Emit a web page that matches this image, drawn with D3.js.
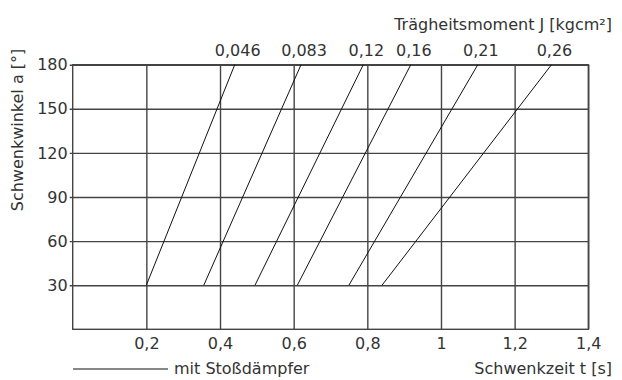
<!DOCTYPE html>
<html>
<head>
<meta charset="utf-8">
<script src="https://cdn.jsdelivr.net/npm/d3@7"></script>
<style>
  html, body { margin: 0; padding: 0; background: #fff; }
  svg { display: block; }
  text { font-family: "DejaVu Sans", sans-serif; font-size: 16px; fill: #333; }
</style>
</head>
<body>
<svg id="chart" width="622" height="380"></svg>
<script>
// Swing angle (°) and swing time (s) tick values
const angleTicks = [30, 60, 90, 120, 150, 180];
const timeTicks = [0.2, 0.4, 0.6, 0.8, 1, 1.2, 1.4];

// Moment of inertia for each characteristic line
const inertiaLabels = ["0,046", "0,083", "0,12", "0,16", "0,21", "0,26"];

// Each line runs from 30° to 180°
const lineAngles = [30, 180];
const timeAt30 = [0.2, 0.356, 0.495, 0.61, 0.75, 0.84];
const timeAt180 = [0.44, 0.62, 0.789, 0.918, 1.10, 1.30];

const svg = d3.select("#chart");
const plotLeft = 72.7, plotRight = 588.3, plotTop = 64.7, plotBottom = 329.3;

const x = d3.scaleLinear().domain([0, 1.4]).range([plotLeft, plotRight]);
const y = d3.scaleLinear().domain([0, 180]).range([plotBottom, plotTop]);

const gridColor = "#444";
const fmt = v => d3.format("~g")(v).replace(".", ",");

// Horizontal grid lines with left-hand labels
const yAxis = d3.axisLeft(y)
  .tickValues(angleTicks)
  .tickSizeInner(-(plotRight - plotLeft))
  .tickSizeOuter(0)
  .tickPadding(6)
  .tickFormat(d3.format("d"));
const gy = svg.append("g").attr("transform", `translate(${plotLeft},0)`).call(yAxis);
gy.select(".domain").remove();
gy.selectAll(".tick line").attr("stroke", gridColor).attr("stroke-width", 1.4).attr("x1", -3);
gy.selectAll(".tick text").attr("fill", "#333").style("font-size", "16px")
  .style("font-family", "DejaVu Sans, sans-serif").attr("x", -5);

// Vertical grid lines with bottom labels
const xAxis = d3.axisBottom(x)
  .tickValues(timeTicks)
  .tickSizeInner(-(plotBottom - plotTop))
  .tickSizeOuter(0)
  .tickPadding(8)
  .tickFormat(fmt);
const gx = svg.append("g").attr("transform", `translate(0,${plotBottom})`).call(xAxis);
gx.select(".domain").remove();
gx.selectAll(".tick line").attr("stroke", gridColor).attr("stroke-width", 1.4);
gx.selectAll(".tick text").attr("fill", "#333").style("font-size", "16px")
  .style("font-family", "DejaVu Sans, sans-serif");

// Plot frame
svg.append("rect")
  .attr("x", x(0)).attr("y", y(180))
  .attr("width", x(1.4) - x(0)).attr("height", y(0) - y(180))
  .attr("fill", "none").attr("stroke", gridColor).attr("stroke-width", 1.4);

// Characteristic lines
const lines = inertiaLabels.map((label, i) => ({
  label,
  points: [[timeAt30[i], lineAngles[0]], [timeAt180[i], lineAngles[1]]]
}));
const lineGen = d3.line().x(d => x(d[0])).y(d => y(d[1]));
svg.append("g").selectAll("path").data(lines).join("path")
  .attr("d", d => lineGen(d.points))
  .attr("fill", "none").attr("stroke", "#111").attr("stroke-width", 1);

// Inertia labels above the top ends of the lines
svg.append("g").selectAll("text").data(lines).join("text")
  .attr("x", d => x(d.points[1][0]) + 3)
  .attr("y", 56)
  .attr("text-anchor", "middle")
  .text(d => d.label);

// Axis titles
svg.append("text")
  .attr("x", 612).attr("y", 30).attr("text-anchor", "end")
  .text("Trägheitsmoment J [kgcm²]");
svg.append("text")
  .attr("x", 612).attr("y", 374).attr("text-anchor", "end")
  .text("Schwenkzeit t [s]");
svg.append("text")
  .attr("transform", "translate(17,130) rotate(-90)")
  .attr("text-anchor", "middle")
  .attr("dominant-baseline", "central")
  .text("Schwenkwinkel a [°]");

// Legend
svg.append("line")
  .attr("x1", 73).attr("x2", 168).attr("y1", 369).attr("y2", 369)
  .attr("stroke", "#111").attr("stroke-width", 1);
svg.append("text")
  .attr("x", 174).attr("y", 374)
  .text("mit Stoßdämpfer");
</script>
</body>
</html>
